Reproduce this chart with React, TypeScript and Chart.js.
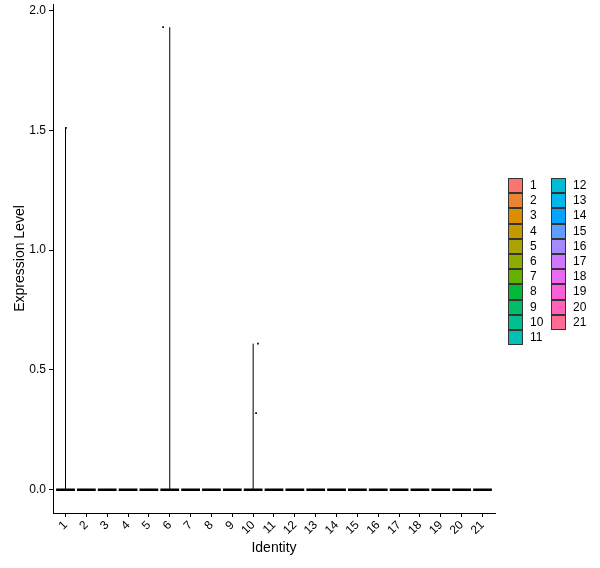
import React, { useEffect, useRef } from "react";
import { Chart, registerables } from "chart.js";

Chart.register(...registerables);

const categories = ["1","2","3","4","5","6","7","8","9","10","11","12","13","14","15","16","17","18","19","20","21"];
const violinMax = [1.51, 0, 0, 0, 0, 1.93, 0, 0, 0, 0.61, 0, 0, 0, 0, 0, 0, 0, 0, 0, 0, 0];
const pointCategory = [1, 6, 10, 10];
const pointJitter = [0.02, -0.32, 0.23, 0.14];
const pointValue = [1.51, 1.93, 0.61, 0.32];
const yTickValues = [0, 0.5, 1.0, 1.5, 2.0];
const legendColors = [
  "#F8766D", "#EB8335", "#DB8E00", "#C49A00", "#AAA300", "#8EAB00", "#64B200",
  "#00BA38", "#00BE67", "#00C08D", "#00C0B5", "#00BCD6", "#00B6EB", "#06A4FF",
  "#619CFF", "#A58AFF", "#CF78FF", "#EB69F0", "#FB61D7", "#FF63B6", "#FF6B94",
];

const FONT = "'Liberation Sans', Arial, sans-serif";

export default function App() {
  const ref = useRef<HTMLCanvasElement | null>(null);

  useEffect(() => {
    if (!ref.current) return;
    const flatData = categories.flatMap((_, i) => [
      { x: i + 1 - 0.45, y: 0 },
      { x: i + 1 + 0.45, y: 0 },
      { x: i + 1 + 0.5, y: null },
    ]);
    const stemData = violinMax.flatMap((m, i) =>
      m > 0 ? [{ x: i + 1, y: 0 }, { x: i + 1, y: m }, { x: i + 1, y: null }] : []
    );
    const pts = pointValue.map((v, i) => ({ x: pointCategory[i] + pointJitter[i], y: v }));

    const chart = new Chart(ref.current, {
      type: "scatter",
      data: {
        datasets: [
          {
            data: stemData as any,
            showLine: true,
            borderColor: "#000",
            borderWidth: 1,
            pointRadius: 0,
            spanGaps: false,
          },
          {
            data: flatData as any,
            showLine: true,
            borderColor: "#000",
            borderWidth: 2.5,
            pointRadius: 0,
            spanGaps: false,
          },
          {
            data: pts,
            pointStyle: "rect",
            pointRadius: 1.2,
            backgroundColor: "#000",
            borderColor: "#000",
            borderWidth: 0,
          },
        ],
      },
      options: {
        responsive: false,
        animation: false,
        layout: { padding: { top: 3, right: 105, left: 0, bottom: 0 } },
        plugins: { legend: { display: false }, tooltip: { enabled: false } },
        scales: {
          x: {
            type: "linear",
            min: 0.4,
            max: 21.6,
            afterBuildTicks: (s: any) => {
              s.ticks = categories.map((_, i) => ({ value: i + 1 }));
            },
            afterFit: (s: any) => {
              s.height = 55;
              s.paddingLeft = 0;
              s.paddingRight = 0;
            },
            ticks: {
              autoSkip: false,
              minRotation: 45,
              maxRotation: 45,
              padding: 1,
              color: "#000",
              font: { family: FONT, size: 12 },
              callback: (v: any) => categories[Math.round(Number(v)) - 1] ?? "",
            },
            grid: { drawOnChartArea: false, drawTicks: true, tickLength: 4, color: "#000" },
            border: { display: true, color: "#000", width: 1 },
            title: {
              display: true,
              text: "Identity",
              color: "#000",
              font: { family: FONT, size: 14 },
              padding: { top: 0, bottom: 11 },
            },
          },
          y: {
            type: "linear",
            min: -0.0965,
            max: 2.0265,
            afterBuildTicks: (s: any) => {
              s.ticks = yTickValues.map((v) => ({ value: v }));
            },
            afterFit: (s: any) => {
              s.width = 53;
              s.paddingTop = 0;
              s.paddingBottom = 0;
            },
            ticks: {
              padding: 3,
              color: "#000",
              font: { family: FONT, size: 12 },
              callback: (v: any) => Number(v).toFixed(1),
            },
            grid: { drawOnChartArea: false, drawTicks: true, tickLength: 4, color: "#000" },
            border: { display: true, color: "#000", width: 1 },
            title: {
              display: true,
              text: "Expression Level",
              color: "#000",
              font: { family: FONT, size: 14 },
              padding: { top: 12, bottom: 0 },
            },
          },
        },
      },
    });
    return () => chart.destroy();
  }, []);

  const rowH = 15.2;
  return (
    <div style={{ position: "absolute", left: 0, top: 0, width: 600, height: 568, background: "#fff", fontFamily: FONT }}>
      <canvas ref={ref} width={600} height={568} style={{ position: "absolute", left: 0, top: 0 }} />
      {categories.map((c, i) => {
        const col = i < 11 ? 0 : 1;
        const row = i < 11 ? i : i - 11;
        const keyLeft = col === 0 ? 508 : 551;
        const textLeft = col === 0 ? 530 : 573;
        const top = 178 + row * rowH;
        return (
          <React.Fragment key={c}>
            <div
              style={{
                position: "absolute",
                left: keyLeft,
                top,
                width: 15,
                height: rowH,
                boxSizing: "border-box",
                border: "1px solid #333",
                background: legendColors[i],
              }}
            />
            <div
              style={{
                position: "absolute",
                left: textLeft,
                top,
                height: rowH,
                lineHeight: rowH + "px",
                fontSize: 12,
                color: "#000",
              }}
            >
              {c}
            </div>
          </React.Fragment>
        );
      })}
    </div>
  );
}
